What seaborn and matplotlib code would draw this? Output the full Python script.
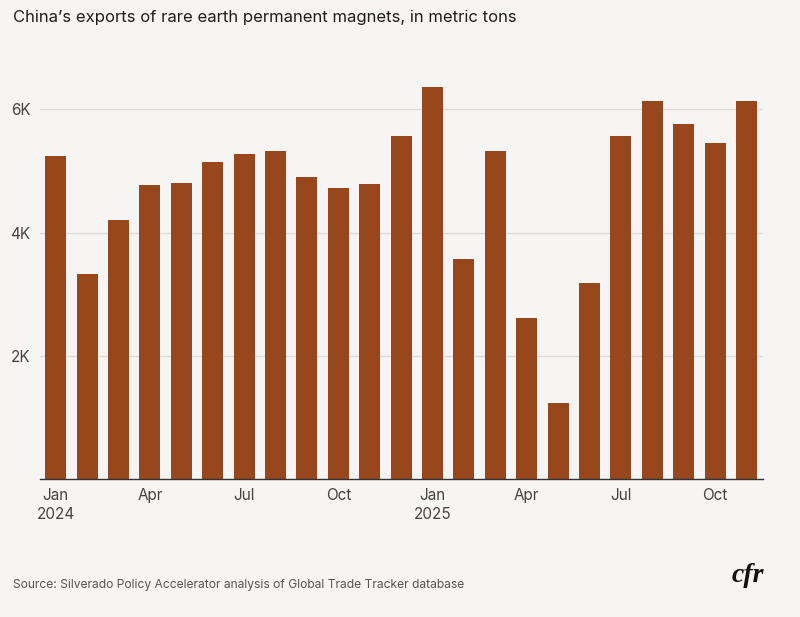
import matplotlib
matplotlib.use("Agg")

import matplotlib.pyplot as plt
import pandas as pd
import seaborn as sns

months = [
    "2024-01", "2024-02", "2024-03", "2024-04", "2024-05", "2024-06",
    "2024-07", "2024-08", "2024-09", "2024-10", "2024-11", "2024-12",
    "2025-01", "2025-02", "2025-03", "2025-04", "2025-05", "2025-06",
    "2025-07", "2025-08", "2025-09", "2025-10", "2025-11",
]
exports_tons = [
    5250, 3330, 4200, 4770, 4800, 5150, 5270, 5320, 4900, 4720, 4790, 5560,
    6360, 3580, 5320, 2620, 1240, 3180, 5560, 6140, 5760, 5460, 6140,
]
tick_labels = {
    "2024-01": "Jan\n2024", "2024-04": "Apr", "2024-07": "Jul", "2024-10": "Oct",
    "2025-01": "Jan\n2025", "2025-04": "Apr", "2025-07": "Jul", "2025-10": "Oct",
}
y_ticks = [2000, 4000, 6000]
y_tick_labels = ["2K", "4K", "6K"]

BG = "#f7f5f3"
BAR = "#98461c"

sns.set_theme(style="white")
plt.rcParams["font.family"] = ["Inter", "DejaVu Sans"]

df = pd.DataFrame({"month": months, "tons": exports_tons})

fig = plt.figure(figsize=(8, 6.17), dpi=100, facecolor=BG)
ax = fig.add_axes([0.05, 0.2232, 0.904, 0.6496], facecolor=BG)

sns.barplot(data=df, x="month", y="tons", color=BAR, width=0.67,
            saturation=1, linewidth=0, ax=ax, zorder=3)

ax.set_xlim(-0.5, 22.53)
ax.set_ylim(0, 6500)
ax.set_yticks(y_ticks)
ax.set_yticklabels(y_tick_labels)
ax.yaxis.grid(True, color="#dedbd8", linewidth=1, zorder=0)
ax.xaxis.grid(False)

tick_pos = [months.index(m) for m in tick_labels]
ax.set_xticks(tick_pos)
ax.set_xticklabels(list(tick_labels.values()), linespacing=1.35)

ax.tick_params(axis="y", length=0, pad=7, labelsize=11, labelcolor="#444444")
ax.tick_params(axis="x", length=0, pad=6, labelsize=11, labelcolor="#444444")
ax.set_xlabel("")
ax.set_ylabel("")

for side in ["top", "right", "left"]:
    ax.spines[side].set_visible(False)
ax.spines["bottom"].set_color("#333333")
ax.spines["bottom"].set_linewidth(1)
ax.spines["bottom"].set_zorder(4)

fig.text(0.016, 0.971, "China\u2019s exports of rare earth permanent magnets, in metric tons",
         fontsize=12, color="#1e1e1e", ha="left", va="center")
fig.text(0.016, 0.052, "Source: Silverado Policy Accelerator analysis of Global Trade Tracker database",
         fontsize=8.7, color="#555555", ha="left", va="center")
fig.text(0.935, 0.067, "cfr", fontsize=20, color="#111111", ha="center", va="center",
         family="Liberation Serif", style="italic", weight="bold")

fig.savefig("out.png", dpi=100, facecolor=BG)
